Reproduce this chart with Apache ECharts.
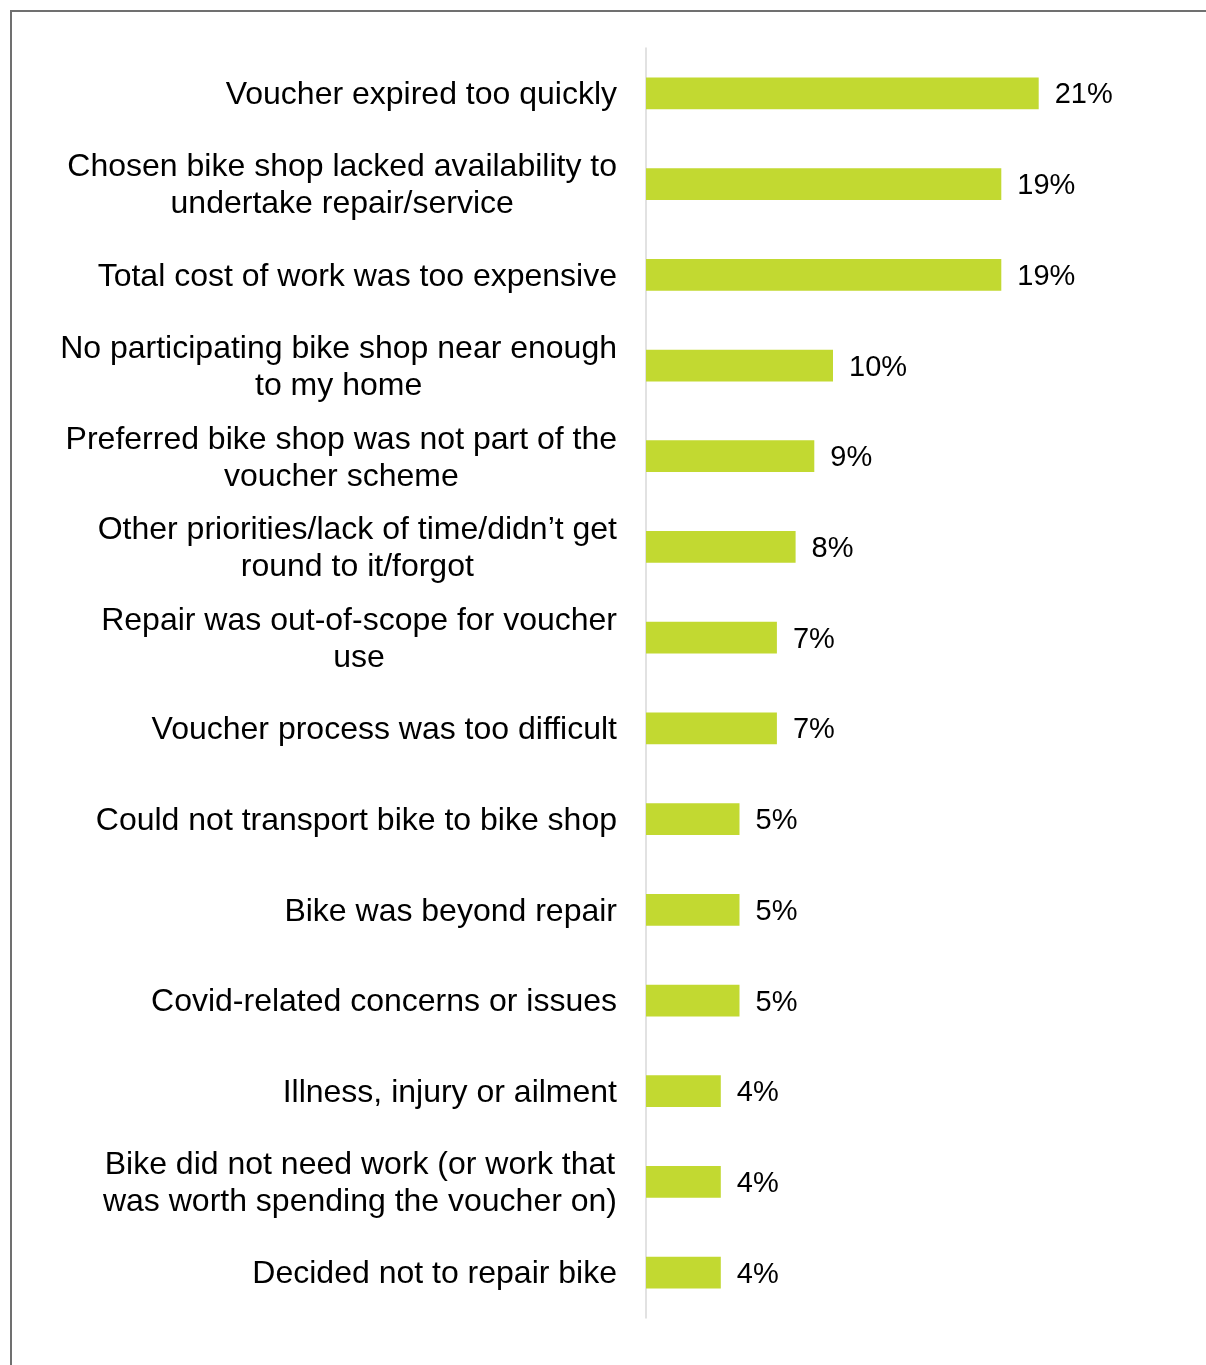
<!DOCTYPE html>
<html>
<head>
<meta charset="utf-8">
<style>
  html, body { margin: 0; padding: 0; background: #ffffff; }
  #chart { width: 1206px; height: 1365px; }
</style>
<script src="https://cdn.jsdelivr.net/npm/echarts@6/dist/echarts.min.js"></script>
</head>
<body>
<div id="chart"></div>
<script>
// Reasons for not using the repair voucher (% of respondents)
const categories = [
  'Voucher expired too quickly',
  'Chosen bike shop lacked availability to\nundertake repair/service',
  'Total cost of work was too expensive',
  'No participating bike shop near enough\nto my home',
  'Preferred bike shop was not part of the\nvoucher scheme',
  'Other priorities/lack of time/didn\u2019t get\nround to it/forgot',
  'Repair was out-of-scope for voucher\nuse',
  'Voucher process was too difficult',
  'Could not transport bike to bike shop',
  'Bike was beyond repair',
  'Covid-related concerns or issues',
  'Illness, injury or ailment',
  'Bike did not need work (or work that\nwas worth spending the voucher on)',
  'Decided not to repair bike'
];
const values = [21, 19, 19, 10, 9, 8, 7, 7, 5, 5, 5, 4, 4, 4];

const chart = echarts.init(document.getElementById('chart'), null, { renderer: 'canvas' });

chart.setOption({
  backgroundColor: '#ffffff',
  animation: false,
  graphic: [{
    type: 'rect',
    silent: true,
    shape: { x: 11, y: 11, width: 1300, height: 1400 },
    style: { fill: 'none', stroke: '#707070', lineWidth: 2 }
  }],
  grid: { left: 646, top: 48, bottom: 47, width: 467.5 },
  xAxis: {
    type: 'value',
    min: 0,
    max: 25,
    show: false
  },
  yAxis: {
    type: 'category',
    inverse: true,
    data: categories,
    axisLine: { show: true, lineStyle: { color: '#d9d9d9', width: 1.5 } },
    axisTick: { show: false },
    splitLine: { show: false },
    axisLabel: {
      margin: 29,
      align: 'right',
      padding: [4, 0, 0, 0],
      color: '#000000',
      fontFamily: 'Liberation Sans, Arial, sans-serif',
      fontSize: 32,
      lineHeight: 37,
      formatter: function (v) {
        return v.split('\n').map(function (line) { return '{c|' + line + '}'; }).join('\n');
      },
      rich: {
        c: {
          align: 'center',
          color: '#000000',
          fontFamily: 'Liberation Sans, Arial, sans-serif',
          fontSize: 32,
          lineHeight: 37
        }
      }
    }
  },
  series: [{
    type: 'bar',
    data: values,
    barCategoryGap: '65%',
    itemStyle: { color: '#c2d931' },
    label: {
      show: true,
      position: 'right',
      distance: 16,
      offset: [0, 2],
      formatter: '{c}%',
      color: '#000000',
      fontFamily: 'Liberation Sans, Arial, sans-serif',
      fontSize: 29
    }
  }]
});
</script>
</body>
</html>
